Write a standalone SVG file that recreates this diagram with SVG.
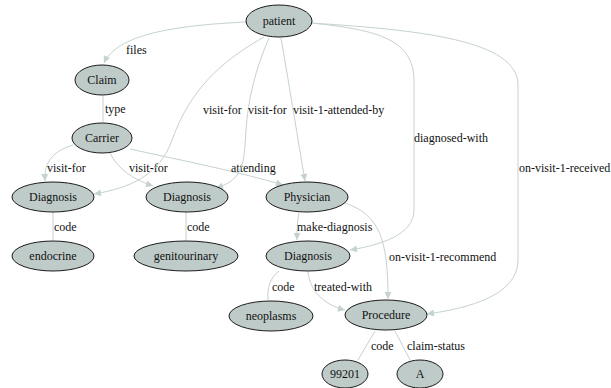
<svg xmlns="http://www.w3.org/2000/svg" width="611" height="388" viewBox="0 0 611 388">
<style>
.n ellipse{fill:#bfcbc8;stroke:#1a1a1a;stroke-width:1}
.n text{font-size:12px;fill:#111;text-anchor:middle}
.e path{fill:none;stroke:#c5d2d1;stroke-width:1}
.e text{font-size:12px;fill:#111}
text{font-family:'Liberation Serif','Times New Roman','DejaVu Serif',serif}
</style>
<defs>
<marker id="ah" viewBox="0 0 10 10" refX="10" refY="5" markerWidth="10" markerHeight="7" markerUnits="userSpaceOnUse" orient="auto">
<path d="M0,0 L10,5 L0,10 z" fill="#c5d2d1"/>
</marker>
</defs>
<rect width="611" height="388" fill="#fff"/>
<g id="edges" class="e" font-family="Liberation Serif, serif">
<path d="M246,22 C185,25 118,32 104,63" marker-end="url(#ah)"/>
<text x="126" y="54">files</text>
<path d="M103,96 L103,122"/>
<text x="105" y="113">type</text>
<path d="M73,145 C50,152 44,165 45,181" marker-end="url(#ah)"/>
<text x="47" y="172">visit-for</text>
<path d="M110,153 C118,170 135,180 153,186" marker-end="url(#ah)"/>
<text x="129" y="172">visit-for</text>
<path d="M130,149 C180,160 240,172 283,185" marker-end="url(#ah)"/>
<text x="231" y="172">attending</text>
<path d="M264,37 C220,62 190,90 172,140 C160,175 130,188 94,194" marker-end="url(#ah)"/>
<text x="203" y="114">visit-for</text>
<path d="M269,38 C255,70 248,100 246,130 C244,160 245,180 216,188" marker-end="url(#ah)"/>
<text x="248" y="114">visit-for</text>
<path d="M281,38 C290,90 298,140 305,181" marker-end="url(#ah)"/>
<text x="293" y="114">visit-1-attended-by</text>
<path d="M311,23 C380,30 413,40 414,80 L414,210 C414,235 380,245 350,250" marker-end="url(#ah)"/>
<text x="414" y="142">diagnosed-with</text>
<path d="M311,23 C420,30 518,40 518,85 L518,260 C518,295 470,308 427,314" marker-end="url(#ah)"/>
<text x="519" y="172">on-visit-1-received</text>
<path d="M345,203 C380,215 388,240 388,299" marker-end="url(#ah)"/>
<text x="389" y="261">on-visit-1-recommend</text>
<path d="M299,213 C297,222 297,230 297,240" marker-end="url(#ah)"/>
<text x="297" y="231">make-diagnosis</text>
<path d="M279,271 C270,278 267,288 268,300"/>
<text x="272" y="291">code</text>
<path d="M308,272 C310,292 325,305 345,310" marker-end="url(#ah)"/>
<text x="314" y="291">treated-with</text>
<path d="M53,212 L53,240"/>
<text x="54" y="231">code</text>
<path d="M186,212 L186,240"/>
<text x="187" y="231">code</text>
<path d="M375,331 L358,360"/>
<text x="371" y="350">code</text>
<path d="M395,331 L410,360"/>
<text x="407" y="350">claim-status</text>
</g>
<g id="patient" class="n"><ellipse cx="279" cy="21" rx="33" ry="16"/><text x="279" y="25">patient</text></g>
<g id="claim" class="n"><ellipse cx="102" cy="80" rx="27" ry="15"/><text x="102" y="84">Claim</text></g>
<g id="carrier" class="n"><ellipse cx="102" cy="138" rx="30" ry="15"/><text x="102" y="142">Carrier</text></g>
<g id="diagnosis1" class="n"><ellipse cx="53" cy="197" rx="41" ry="15"/><text x="53" y="201">Diagnosis</text></g>
<g id="diagnosis2" class="n"><ellipse cx="187" cy="197" rx="41" ry="15"/><text x="187" y="201">Diagnosis</text></g>
<g id="physician" class="n"><ellipse cx="307" cy="197" rx="41" ry="15"/><text x="307" y="201">Physician</text></g>
<g id="endocrine" class="n"><ellipse cx="53" cy="256" rx="41" ry="15"/><text x="53" y="260">endocrine</text></g>
<g id="genitourinary" class="n"><ellipse cx="186" cy="256" rx="52" ry="15"/><text x="186" y="260">genitourinary</text></g>
<g id="diagnosis3" class="n"><ellipse cx="308" cy="256" rx="42" ry="15"/><text x="308" y="260">Diagnosis</text></g>
<g id="neoplasms" class="n"><ellipse cx="271" cy="316" rx="42" ry="15"/><text x="271" y="320">neoplasms</text></g>
<g id="procedure" class="n"><ellipse cx="386" cy="315" rx="41" ry="15"/><text x="386" y="319">Procedure</text></g>
<g id="n99201" class="n"><ellipse cx="345" cy="374" rx="23" ry="14"/><text x="345" y="378">99201</text></g>
<g id="a" class="n"><ellipse cx="420" cy="374" rx="23" ry="14"/><text x="420" y="378">A</text></g>
</svg>
